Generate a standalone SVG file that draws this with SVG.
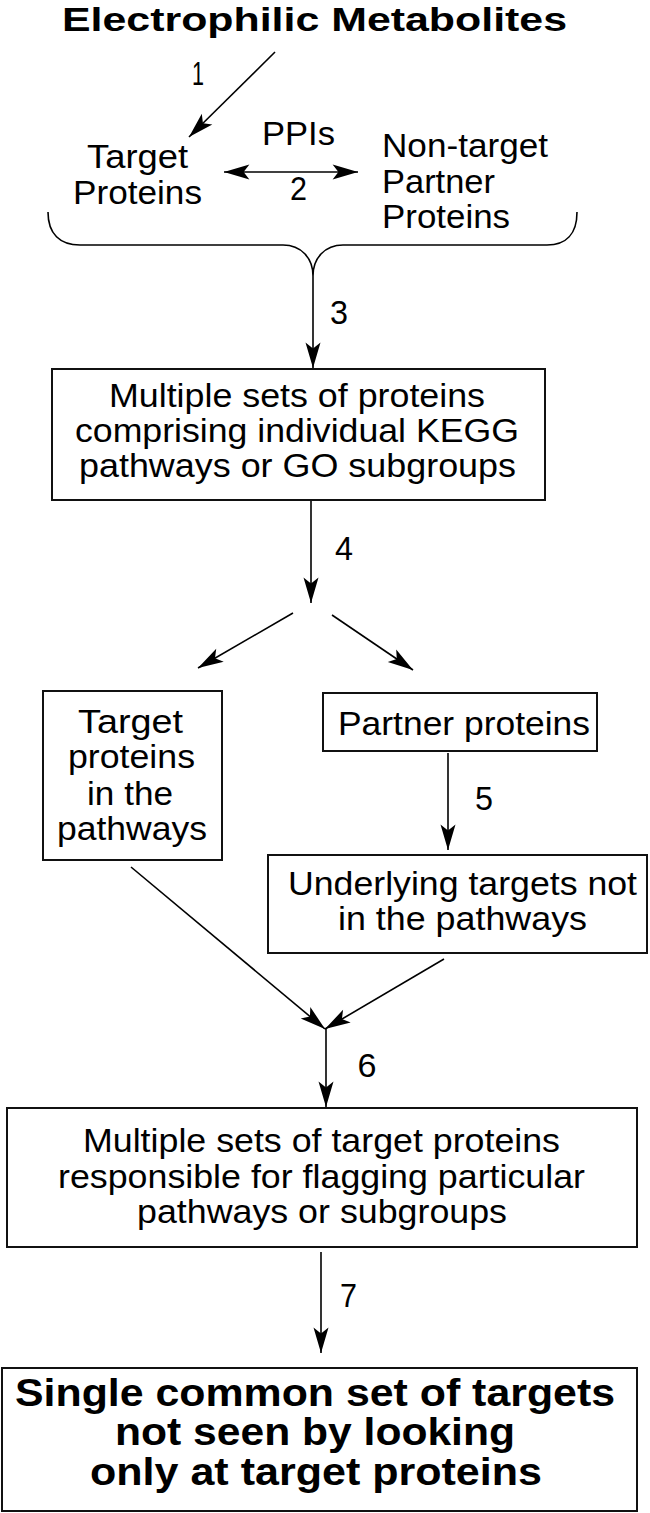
<svg xmlns="http://www.w3.org/2000/svg" width="650" height="1513" viewBox="0 0 650 1513">
<style>
text{font-family:"Liberation Sans",Arial,sans-serif;fill:#000;}
.t{font-size:33px;}
.c{text-anchor:middle;}
.b{font-weight:bold;font-size:39px;}
.h{font-weight:bold;font-size:34px;}
.n{font-size:33px;text-anchor:middle;}
.box{fill:#fff;stroke:#111;stroke-width:2;}
.ln{fill:none;stroke:#000;stroke-width:1.6;}
</style>
<defs>
<marker id="ah" markerUnits="userSpaceOnUse" markerWidth="30" markerHeight="20" viewBox="-24 -8 26 16" refX="0" refY="0" orient="auto-start-reverse">
<path d="M0,0 L-22,-6.5 L-17,0 L-22,6.5 Z" fill="#000"/>
</marker>
</defs>
<g id="connectors">
<line class="ln" x1="275" y1="52" x2="189" y2="137" marker-end="url(#ah)"/>
<line class="ln" x1="224" y1="172" x2="358" y2="172" marker-start="url(#ah)" marker-end="url(#ah)"/>
<path class="ln" d="M48,212 C48,234 60,245 80,245 L283,245 C301,245 313,258 313,276 C313,258 325,245 343,245 L547,245 C566,245 577,234 577,212"/>
<line class="ln" x1="313" y1="276" x2="313" y2="368" marker-end="url(#ah)"/>
<line class="ln" x1="311" y1="501" x2="311" y2="603" marker-end="url(#ah)"/>
<line class="ln" x1="293" y1="613" x2="198" y2="668" marker-end="url(#ah)"/>
<line class="ln" x1="332" y1="615" x2="413" y2="670" marker-end="url(#ah)"/>
<line class="ln" x1="448" y1="753" x2="448" y2="850" marker-end="url(#ah)"/>
<line class="ln" x1="131" y1="867" x2="325" y2="1029" marker-end="url(#ah)"/>
<line class="ln" x1="444" y1="959" x2="325" y2="1029" marker-end="url(#ah)"/>
<line class="ln" x1="326" y1="1029" x2="326" y2="1107" marker-end="url(#ah)"/>
<line class="ln" x1="321" y1="1252" x2="321" y2="1353" marker-end="url(#ah)"/>
<text class="n" x="198" y="85" textLength="12" lengthAdjust="spacingAndGlyphs">1</text>
<text class="t c" x="298.5" y="145" textLength="73" lengthAdjust="spacingAndGlyphs">PPIs</text>
<text class="n" x="298.5" y="200" textLength="17" lengthAdjust="spacingAndGlyphs">2</text>
<text class="n" x="339" y="324" textLength="18" lengthAdjust="spacingAndGlyphs">3</text>
<text class="n" x="344" y="560" textLength="18" lengthAdjust="spacingAndGlyphs">4</text>
<text class="n" x="484" y="810" textLength="18" lengthAdjust="spacingAndGlyphs">5</text>
<text class="n" x="367" y="1077" textLength="19" lengthAdjust="spacingAndGlyphs">6</text>
<text class="n" x="348.5" y="1307" textLength="17" lengthAdjust="spacingAndGlyphs">7</text>
</g>
<g id="title">
<text class="h c" x="314.5" y="31" textLength="505" lengthAdjust="spacingAndGlyphs">Electrophilic Metabolites</text>
</g>
<g id="target-proteins">
<text class="t c" x="137.5" y="168" textLength="101" lengthAdjust="spacingAndGlyphs">Target</text>
<text class="t c" x="137.5" y="204" textLength="129" lengthAdjust="spacingAndGlyphs">Proteins</text>
</g>
<g id="nontarget-proteins">
<text class="t" x="382" y="157" textLength="166" lengthAdjust="spacingAndGlyphs">Non-target</text>
<text class="t" x="382" y="193" textLength="113" lengthAdjust="spacingAndGlyphs">Partner</text>
<text class="t" x="382" y="228" textLength="128" lengthAdjust="spacingAndGlyphs">Proteins</text>
</g>
<g id="box-multiple-sets">
<rect class="box" x="52" y="369" width="493" height="131"/>
<text class="t c" x="297" y="407" textLength="376" lengthAdjust="spacingAndGlyphs">Multiple sets of proteins</text>
<text class="t c" x="297" y="442" textLength="444" lengthAdjust="spacingAndGlyphs">comprising individual KEGG</text>
<text class="t c" x="297.5" y="477" textLength="437" lengthAdjust="spacingAndGlyphs">pathways or GO subgroups</text>
</g>
<g id="box-target-in-pathways">
<rect class="box" x="43" y="691" width="179" height="169"/>
<text class="t c" x="130.5" y="733" textLength="105" lengthAdjust="spacingAndGlyphs">Target</text>
<text class="t c" x="131.5" y="768" textLength="127" lengthAdjust="spacingAndGlyphs">proteins</text>
<text class="t c" x="130" y="805" textLength="86" lengthAdjust="spacingAndGlyphs">in the</text>
<text class="t c" x="132" y="840" textLength="150" lengthAdjust="spacingAndGlyphs">pathways</text>
</g>
<g id="box-partner">
<rect class="box" x="323" y="693" width="274" height="58"/>
<text class="t c" x="464" y="735" textLength="252" lengthAdjust="spacingAndGlyphs">Partner proteins</text>
</g>
<g id="box-underlying">
<rect class="box" x="268" y="855" width="379" height="98"/>
<text class="t c" x="462.5" y="895" textLength="349" lengthAdjust="spacingAndGlyphs">Underlying targets not</text>
<text class="t c" x="462.5" y="930" textLength="249" lengthAdjust="spacingAndGlyphs">in the pathways</text>
</g>
<g id="box-flagging">
<rect class="box" x="7" y="1108" width="630" height="139"/>
<text class="t c" x="321.5" y="1152" textLength="477" lengthAdjust="spacingAndGlyphs">Multiple sets of target proteins</text>
<text class="t c" x="321.5" y="1188" textLength="527" lengthAdjust="spacingAndGlyphs">responsible for flagging particular</text>
<text class="t c" x="322" y="1223" textLength="370" lengthAdjust="spacingAndGlyphs">pathways or subgroups</text>
</g>
<g id="box-single-set">
<rect class="box" x="2" y="1368" width="635" height="143"/>
<text class="b c" x="315" y="1406" textLength="600" lengthAdjust="spacingAndGlyphs">Single common set of targets</text>
<text class="b c" x="315" y="1445" textLength="400" lengthAdjust="spacingAndGlyphs">not seen by looking</text>
<text class="b c" x="316" y="1485" textLength="452" lengthAdjust="spacingAndGlyphs">only at target proteins</text>
</g>
</svg>
